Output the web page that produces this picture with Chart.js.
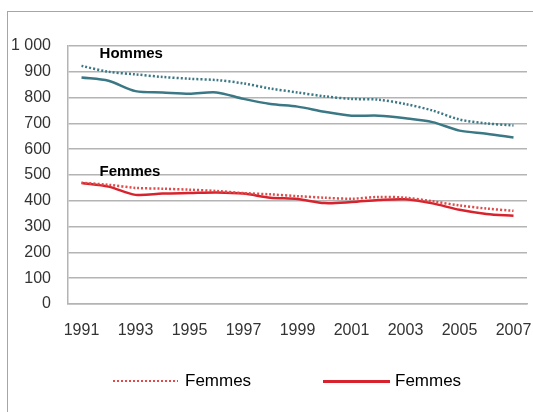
<!DOCTYPE html>
<html>
<head>
<meta charset="utf-8">
<script src="https://cdn.jsdelivr.net/npm/chart.js@4"></script>
<style>
  html, body { margin: 0; padding: 0; background: #fff; }
  #wrap { position: relative; width: 533px; height: 412px; overflow: hidden; }
  #frame { position: absolute; left: 7px; top: 11px; width: 600px; height: 500px;
           border-left: 1px solid #a6a6a6; border-top: 1px solid #a6a6a6; }
  #myChart { position: absolute; left: 0; top: 0; }
  .leg { position: absolute; font-family: "Liberation Sans", Arial, sans-serif; font-size: 17px; color: #000; }
  .sw { position: absolute; height: 2px; }
</style>
</head>
<body>
<div id="wrap">
  <div id="frame"></div>
  <canvas id="myChart" width="533" height="412"></canvas>
  <div id="legend"></div>
</div>
<script>
// years on the x axis
var years = ['1991', '1992', '1993', '1994', '1995', '1996', '1997', '1998', '1999',
             '2000', '2001', '2002', '2003', '2004', '2005', '2006', '2007'];

var hommesSolid = [878, 865, 825, 820, 815, 820, 795, 775, 765, 745, 730, 730, 720, 705, 672, 660, 645];
var hommesDot = [923, 900, 890, 880, 873, 868, 855, 835, 820, 805, 795, 792, 775, 750, 715, 700, 692];
var femmesSolid = [469, 455, 423, 428, 430, 432, 428, 412, 407, 391, 395, 403, 406, 390, 365, 349, 342];
var femmesDot = [470, 462, 450, 447, 443, 438, 430, 425, 418, 412, 408, 415, 412, 398, 382, 370, 361];

// text written inside the plot
var noteText = ['Hommes', 'Femmes'];
var noteX = [0.67, 0.67];
var noteY = [955, 496];

var legendItems = [
    { text: 'Femmes', color: '#e24a4a', dotted: true, line: [113, 65], textX: 185 },
    { text: 'Femmes', color: '#d7232d', dotted: false, line: [323, 67], textX: 395 }
];

var teal = '#3b7885';
var FONT = '"Liberation Sans", Arial, sans-serif';

var notes = {
    id: 'notes',
    afterDatasetsDraw: function(chart) {
        var c = chart.ctx;
        var xs = chart.scales.x, ys = chart.scales.y;
        c.save();
        c.font = 'bold 15px ' + FONT;
        c.fillStyle = '#000';
        c.textBaseline = 'alphabetic';
        for (var i = 0; i < noteText.length; i++) {
            c.fillText(noteText[i], xs.getPixelForValue(noteX[i]), ys.getPixelForValue(noteY[i]));
        }
        c.restore();
    }
};

var ctx = document.getElementById('myChart').getContext('2d');
var myChart = new Chart(ctx, {
    type: 'line',
    data: {
        labels: years,
        datasets: [
            { label: 'Hommes', data: hommesSolid, borderColor: teal, borderWidth: 2.5, pointRadius: 0, tension: 0.3, fill: false },
            { label: 'Hommes', data: hommesDot, borderColor: teal, borderWidth: 2.5, borderDash: [2, 2], pointRadius: 0, tension: 0.3, fill: false },
            { label: 'Femmes', data: femmesDot, borderColor: '#e24a4a', borderWidth: 2.5, borderDash: [2, 2], pointRadius: 0, tension: 0.3, fill: false },
            { label: 'Femmes', data: femmesSolid, borderColor: '#d7232d', borderWidth: 2.5, pointRadius: 0, tension: 0.3, fill: false }
        ]
    },
    options: {
        responsive: false,
        animation: false,
        layout: { padding: { top: 46, right: 6, bottom: 58, left: 0 } },
        plugins: {
            legend: { display: false },
            tooltip: { enabled: false }
        },
        scales: {
            x: {
                offset: true,
                grid: { display: false, drawTicks: false },
                border: { color: '#b4b4b4', width: 1.5 },
                ticks: {
                    autoSkip: false,
                    maxRotation: 0,
                    padding: 17,
                    color: '#333',
                    font: { family: FONT, size: 16 },
                    callback: function(v, i) { return i % 2 === 0 ? years[i] : ''; }
                },
                afterFit: function(s) {
                    s.height = 50;
                    s.paddingLeft = 0;
                    s.paddingRight = 0;
                }
            },
            y: {
                min: 0,
                max: 1000,
                grid: { color: '#b4b4b4', lineWidth: 1.5, drawTicks: false },
                border: { color: '#b4b4b4', width: 1.5 },
                ticks: {
                    stepSize: 100,
                    padding: 17,
                    color: '#333',
                    font: { family: FONT, size: 16 },
                    callback: function(v) { return v === 1000 ? '1 000' : v; }
                },
                afterFit: function(s) {
                    s.width = 68;
                    s.paddingTop = 0;
                    s.paddingBottom = 0;
                }
            }
        }
    },
    plugins: [notes]
});

// legend below the plot
var legend = document.getElementById('legend');
legendItems.forEach(function(item) {
    var sw = document.createElement('div');
    sw.className = 'sw';
    sw.style.left = item.line[0] + 'px';
    sw.style.width = item.line[1] + 'px';
    sw.style.top = '380px';
    if (item.dotted) {
        sw.style.background = 'repeating-linear-gradient(to right, ' + item.color + ' 0 2px, transparent 2px 4px)';
    } else {
        sw.style.height = '3px';
        sw.style.background = item.color;
    }
    legend.appendChild(sw);
    var t = document.createElement('div');
    t.className = 'leg';
    t.style.left = item.textX + 'px';
    t.style.top = '371px';
    t.textContent = item.text;
    legend.appendChild(t);
});
</script>
</body>
</html>
